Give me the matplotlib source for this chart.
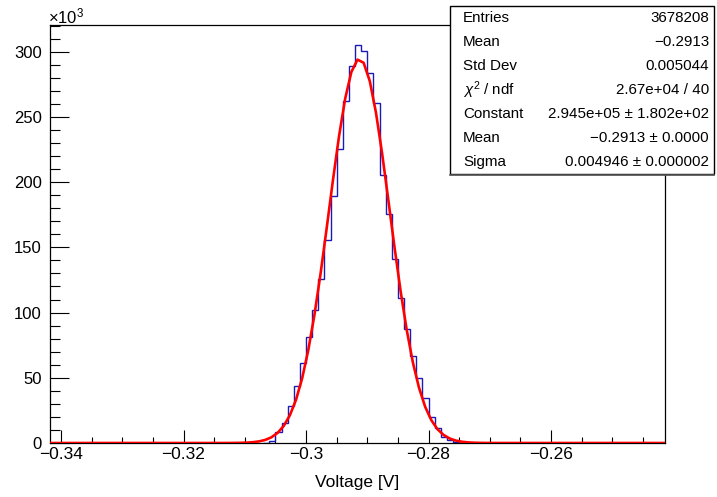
import numpy as np
import matplotlib
matplotlib.use("Agg")
import matplotlib.pyplot as plt
from matplotlib.patches import Rectangle
from matplotlib.ticker import MultipleLocator, FuncFormatter

plt.rcParams['font.family'] = ['Liberation Sans', 'DejaVu Sans']
plt.rcParams['mathtext.fontset'] = 'custom'
plt.rcParams['mathtext.rm'] = 'Liberation Sans'
plt.rcParams['mathtext.it'] = 'Liberation Sans:italic'

# histogram, bin width 1 mV, first bin starts at -0.307 V
first_edge = -0.307
bin_width = 0.001
counts = [300, 1800, 8500, 15600, 28600, 43700, 61300, 81500, 101800, 126000,
	155700, 189600, 225700, 262000, 289300, 305200, 300900, 283500, 260500, 205500,
	175400, 140900, 111000, 87200, 67000, 49600, 34300, 20200, 11300, 4800,
	2300, 800, 300]

# gaus fit parameters (stats box)
fit_const = 2.945e5
fit_mean = -0.2913
fit_sigma = 0.004946

x_range = (-0.3418, -0.2414)

stats_names = ["Entries", "Mean", "Std Dev", r"$\chi^{2}$ / ndf", "Constant", "Mean", "Sigma"]
stats_values = ["3678208", "\u22120.2913", "0.005044", "2.67e+04 / 40",
	"2.945e+05 \u00b1 1.802e+02", "\u22120.2913 \u00b1 0.0000", "0.004946 \u00b1 0.000002"]

edges = first_edge + bin_width * np.arange(len(counts) + 1)

fig = plt.figure(figsize=(7.17, 4.97), dpi=100)
ax = fig.add_axes([50/717, 1 - 443/497, 615/717, 418/497])

ax.stairs(counts, edges, color="#1a1ab4", linewidth=1.0, zorder=2)

# fit curve, drawn over the full axis range like TF1 does
xf = np.linspace(x_range[0], x_range[1], 101)
yf = fit_const * np.exp(-0.5 * ((xf - fit_mean) / fit_sigma) ** 2)
ax.plot(xf, yf, color="#ff0000", linewidth=1.9, zorder=3)

ax.set_xlim(*x_range)
ax.set_ylim(0, 320500)

ax.xaxis.set_major_locator(MultipleLocator(0.02))
ax.xaxis.set_minor_locator(MultipleLocator(0.005))
ax.yaxis.set_major_locator(MultipleLocator(50000))
ax.yaxis.set_minor_locator(MultipleLocator(10000))
ax.yaxis.set_major_formatter(FuncFormatter(lambda v, p: "%d" % round(v / 1000)))
ax.xaxis.set_major_formatter(FuncFormatter(lambda v, p: ("%g" % round(v, 3)).replace("-", "\u2212")))

ax.tick_params(axis="x", which="major", direction="in", length=9.5, width=0.8, labelsize=12.5, pad=3)
ax.tick_params(axis="x", which="minor", direction="in", length=4.5, width=0.8)
ax.tick_params(axis="y", which="major", direction="in", length=14, width=0.8, labelsize=12, pad=6)
ax.tick_params(axis="y", which="minor", direction="in", length=7, width=0.8)
for s in ax.spines.values():
	s.set_linewidth(0.9)

ax.set_xlabel("Voltage [V]", fontsize=12.5, labelpad=9)
fig.text(48/717, 1 - 23/497, r"$\times10^{3}$", fontsize=12, ha="left", va="baseline")

# stats box
bx0, by0, bx1, by1 = 450, 6, 714, 174
box = Rectangle((bx0/717, 1 - by1/497), (bx1 - bx0)/717, (by1 - by0)/497,
	transform=fig.transFigure, facecolor="white", edgecolor="black", linewidth=1.0, zorder=5)
fig.add_artist(box)
fig.add_artist(plt.Line2D([bx0/717, bx1/717], [1 - (by1 + 1)/497] * 2,
	transform=fig.transFigure, color="#555555", linewidth=1.2, zorder=5))
row_h = (by1 - by0) / len(stats_names)
for i, (n, v) in enumerate(zip(stats_names, stats_values)):
	yc = 1 - (by0 + row_h * (i + 0.5)) / 497
	fig.text(463/717, yc, n, fontsize=10.9, ha="left", va="center", zorder=6)
	fig.text(709/717, yc, v, fontsize=10.9, ha="right", va="center", zorder=6)

fig.savefig("out.png", dpi=100)
